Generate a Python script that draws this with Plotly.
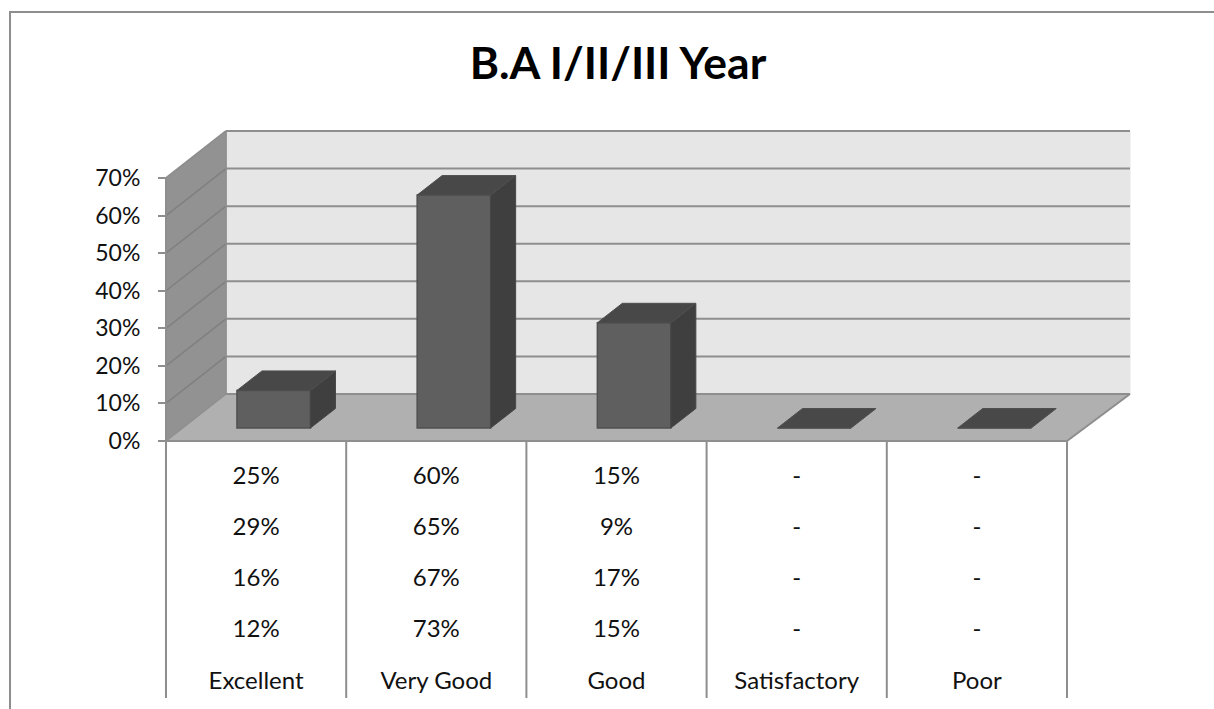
import plotly.graph_objects as go

# ---- data ----
categories = ["Excellent", "Very Good", "Good", "Satisfactory", "Poor"]
bar_values = [10, 62, 28, 0, 0]
row_1 = ["25%", "60%", "15%", "-", "-"]
row_2 = ["29%", "65%", "9%", "-", "-"]
row_3 = ["16%", "67%", "17%", "-", "-"]
row_4 = ["12%", "73%", "15%", "-", "-"]
tick_values = [0, 10, 20, 30, 40, 50, 60, 70]
title_text = "B.A I/II/III Year"

# ---- geometry (pixel scale of the 1214x709 page) ----
W, H = 1214, 709
X0_PX, Y0_PX = 166, 441
CAT_PX = 180.2
PCT_PX = 3.757
px_x = lambda p: (p - X0_PX) / CAT_PX
px_y = lambda p: (Y0_PX - p) / PCT_PX
DX = 60 / CAT_PX            # wall depth in x units
DXR = 63 / CAT_PX           # depth at the right-hand end of the floor
DY = 47 / PCT_PX            # wall depth in y units
BAR_W = 73.5 / CAT_PX
BAR_SHIFT_X = 17.6 / CAT_PX
BAR_SHIFT_Y = 13 / PCT_PX
BD_X = 25 / CAT_PX
BD_Y = 19.5 / PCT_PX
N = len(categories)
TOP = tick_values[-1]
LINE = "#8e8e8e"
FONT = "Lato"


def poly(xs, ys, fill, line=None, width=1):
    path = "M" + " L".join(f"{x},{y}" for x, y in zip(xs, ys)) + " Z"
    return dict(type="path", path=path, xref="x", yref="y", layer="below", fillcolor=fill,
                line=dict(color=line or fill, width=width))


def seg(x0, y0, x1, y1, color=LINE, width=2):
    return dict(type="line", x0=x0, y0=y0, x1=x1, y1=y1, xref="x", yref="y", layer="below",
                line=dict(color=color, width=width))


shapes = [
    poly([DX, N + DXR, N + DXR, DX], [DY, DY, TOP + DY, TOP + DY], "#e6e6e6"),
    poly([0, DX, DX, 0], [0, DY, TOP + DY, TOP], "#929292"),
    poly([0, N, N + DXR, DX], [0, 0, DY, DY], "#b0b0b0"),
]
for t in tick_values[1:]:
    shapes.append(seg(DX, t + DY, N + DXR, t + DY))
    if t < TOP:
        shapes.append(seg(0, t, DX, t + DY, "#808080", 1.5))
shapes.append(seg(0, TOP, DX, TOP + DY))
shapes.append(seg(0, 0, DX, DY, "#8e8e8e", 1.5))
shapes.append(seg(DX, DY, N + DXR, DY))
shapes.append(seg(0, 0, N, 0))
shapes.append(seg(N, 0, N + DXR, DY))
shapes.append(seg(0, 0, 0, TOP))
shapes.append(seg(DX, DY, DX, TOP + DY, "#8e8e8e", 1.5))
for i in range(N + 1):
    shapes.append(seg(i, 0, i, px_y(698)))
# outer frame
shapes.append(dict(type="path", xref="paper", yref="paper", layer="below",
                   path=f"M{10/W},0 L{10/W},{1-12/H} L1,{1-12/H}",
                   line=dict(color="#8e8e8e", width=2)))

xc = [i + 0.5 + BAR_SHIFT_X for i in range(N)]
fig = go.Figure()
fig.add_trace(go.Bar(x=xc, y=bar_values, base=[BAR_SHIFT_Y] * N, width=BAR_W,
                     marker=dict(color="#5f5f5f", line=dict(color="#505050", width=1.5)),
                     hoverinfo="skip", showlegend=False))
for x, v in zip(xc, bar_values):
    l, r = x - BAR_W / 2, x + BAR_W / 2
    t = v + BAR_SHIFT_Y
    b = BAR_SHIFT_Y
    if v > 0:
        fig.add_trace(go.Scatter(x=[r, r + BD_X, r + BD_X, r, r], y=[b, b + BD_Y, t + BD_Y, t, b],
                                 mode="lines", fill="toself", fillcolor="#3f3f3f",
                                 line=dict(color="#474747", width=1), hoverinfo="skip", showlegend=False))
    fig.add_trace(go.Scatter(x=[l, r, r + BD_X, l + BD_X, l], y=[t, t, t + BD_Y, t + BD_Y, t],
                             mode="lines", fill="toself", fillcolor="#484848",
                             line=dict(color="#4e4e4e", width=1), hoverinfo="skip", showlegend=False))

rows = [(row_1, 478), (row_2, 529), (row_3, 580), (row_4, 631), (categories, 683)]
for labels, ypx in rows:
    fig.add_trace(go.Scatter(x=[i + 0.5 for i in range(N)], y=[px_y(ypx)] * N, mode="text",
                             text=labels, textposition="middle center",
                             textfont=dict(family=FONT, size=24, color="#111111"),
                             hoverinfo="skip", showlegend=False))

fig.update_layout(
    width=W, height=H, autosize=False,
    margin=dict(l=0, r=0, t=0, b=0),
    paper_bgcolor="white", plot_bgcolor="white",
    barmode="overlay", shapes=shapes,
    title=dict(text=f"<b>{title_text}</b>", x=618 / W, y=1 - 63 / H, xanchor="center", yanchor="middle",
               xref="paper", yref="paper", font=dict(family=FONT, size=44.5, color="#000000")),
    xaxis=dict(visible=False, range=[px_x(0), px_x(W)], fixedrange=True),
    yaxis=dict(range=[px_y(H), px_y(0)], tickvals=tick_values, ticktext=[f"{t}%" for t in tick_values],
               anchor="free", position=X0_PX / W, showgrid=False, zeroline=False, showline=False,
               ticks="outside", ticklen=8, tickwidth=2, tickcolor=LINE, ticklabelstandoff=13,
               tickfont=dict(family=FONT, size=23, color="#111111"), fixedrange=True),
)
fig.write_html(
    "out.html",
    config={"displayModeBar": False},
    post_script="document.documentElement.style.overflow='hidden';document.body.style.margin='0';",
)
